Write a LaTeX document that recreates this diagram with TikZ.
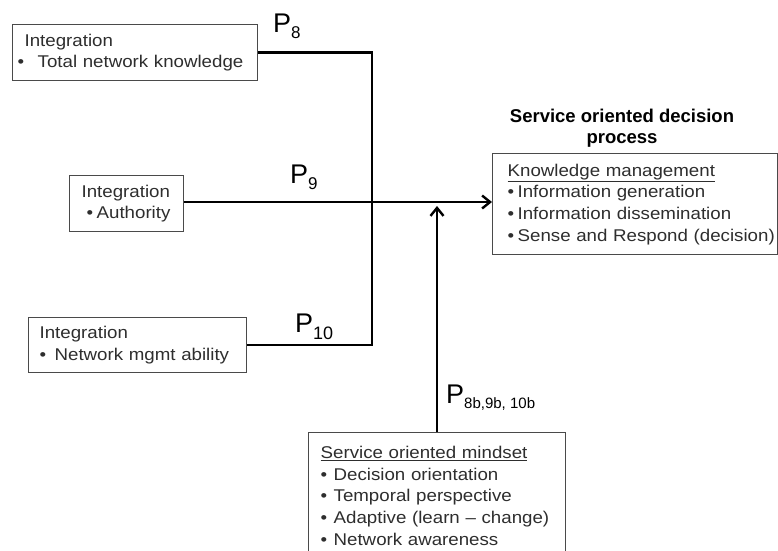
\documentclass[tikz,border=0pt]{standalone}
\usepackage{fontspec}
\setmainfont{Liberation Sans}
\newfontfamily\boxfont[FakeStretch=1.1]{Liberation Sans}
\usetikzlibrary{arrows.meta}

\definecolor{boxgray}{HTML}{4A4A4A}
\definecolor{boxtext}{HTML}{2E2E2E}

% bullet set in a box of fixed width
\newcommand\bul[1]{\makebox[#1][l]{•}}

\tikzset{
  infobox/.style={draw=boxgray, line width=1.3pt, fill=white, anchor=north west,
    align=left, inner ysep=0pt, text=boxtext,
    font=\boxfont\fontsize{17}{21.7}\selectfont},
  link/.style={line width=2.4pt, draw=black},
  tip/.style={-{Straight Barb[length=8pt,width=13pt,line width=2.4pt]}},
  plabel/.style={anchor=base west, inner sep=0pt, font=\fontsize{27}{27}\selectfont},
  title/.style={align=center, inner sep=0pt, anchor=south,
    font=\bfseries\fontsize{18.5}{21}\selectfont},
}

\begin{document}
\begin{tikzpicture}[x=1pt, y=-1pt]
  \useasboundingbox (0,0) rectangle (778,550);
  \clip (0,0) rectangle (778,550);

  % integration boxes on the left
  \node[infobox, text width=235pt, inner xsep=5pt, minimum height=56pt] (b1) at (12,24)
    {\mbox{\hspace*{7pt}Integration}\\ \mbox{\bul{20pt}Total network knowledge}};
  \node[infobox, text width=90pt, inner xsep=12pt, minimum height=56pt] (b2) at (69,175)
    {\mbox{Integration}\\ \mbox{\hspace*{5pt}\bul{10pt}Authority}};
  \node[infobox, text width=196pt, inner xsep=11pt, minimum height=55pt] (b3) at (28,317)
    {\mbox{Integration}\\ \mbox{\bul{15pt}Network mgmt ability}};

  % decision process box
  \node[infobox, text width=255pt, inner xsep=15pt, minimum height=101pt] (b4) at (492,153)
    {\mbox{\underline{Knowledge management}}\\
     \mbox{\bul{10pt}Information generation}\\
     \mbox{\bul{10pt}Information dissemination}\\
     \mbox{\bul{10pt}Sense and Respond (decision)}};
  \node[title] (ttl) at (622,148) {Service oriented decision\\process};

  % mindset box
  \node[infobox, text width=233pt, inner xsep=12pt, minimum height=126pt] (b5) at (308,432)
    {\mbox{\underline{Service oriented mindset}}\\
     \mbox{\bul{13pt}Decision orientation}\\
     \mbox{\bul{13pt}Temporal perspective}\\
     \mbox{\bul{13pt}Adaptive (learn – change)}\\
     \mbox{\bul{13pt}Network awareness}};

  % connectors
  \coordinate (j) at (372,202);
  \coordinate (up) at (437,206);
  \draw[link] (b1.east) -- (b1.east -| j) -- (j);
  \draw[link] (b3.east) -- (b3.east -| j) -- (j);
  \draw[link, tip] (b2.east |- j) -- (b4.west |- j);
  \draw[link, tip] (b5.north -| up) -- (up);

  % path labels
  \node[plabel] (p8) at (273,32) {P\raisebox{-6pt}{\fontsize{17}{17}\selectfont 8}};
  \node[plabel] (p9) at (290,183) {P\raisebox{-6pt}{\fontsize{17}{17}\selectfont 9}};
  \node[plabel] (p10) at (295,332) {P\raisebox{-7pt}{\fontsize{18}{18}\selectfont 10}};
  \node[plabel] (p8b) at (446,403) {P\raisebox{-5pt}{\fontsize{15}{15}\selectfont 8b,9b, 10b}};
\end{tikzpicture}
\end{document}
